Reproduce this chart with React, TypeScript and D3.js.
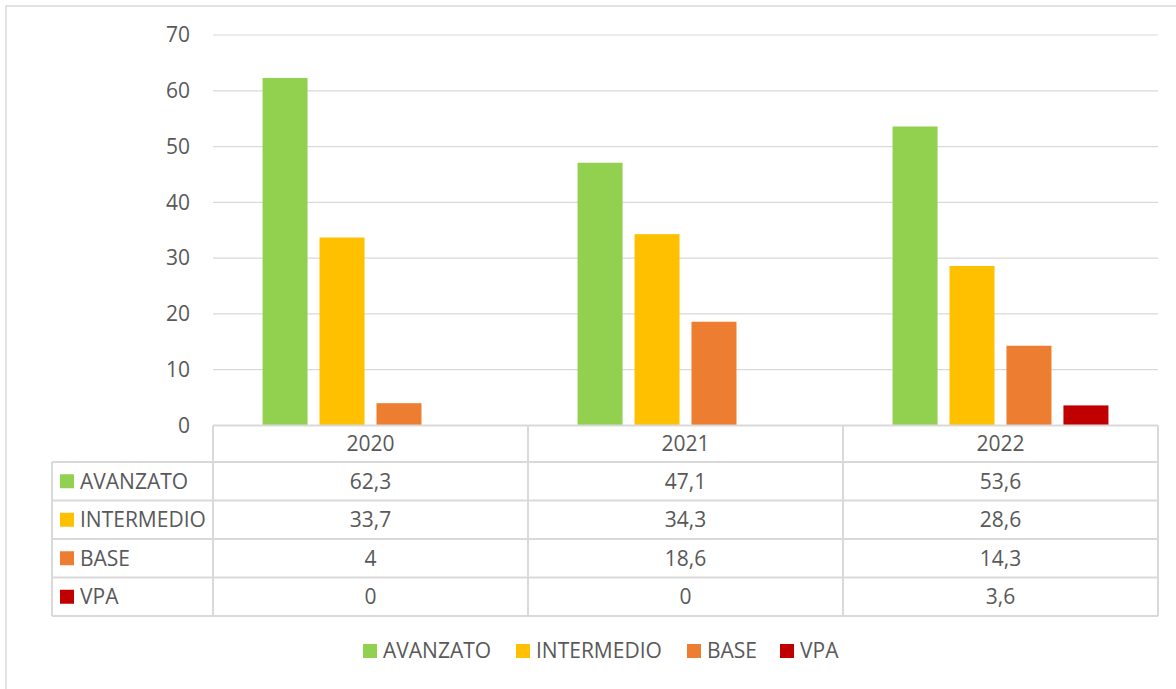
import React from "react";
import * as d3 from "d3";

const years = ["2020", "2021", "2022"];
const seriesNames = ["AVANZATO", "INTERMEDIO", "BASE", "VPA"];
const seriesColors = ["#92D050", "#FFC000", "#ED7D31", "#C00000"];
const avanzato = [62.3, 47.1, 53.6];
const intermedio = [33.7, 34.3, 28.6];
const base = [4, 18.6, 14.3];
const vpa = [0, 0, 3.6];
const yTicks = [0, 10, 20, 30, 40, 50, 60, 70];

const values = [avanzato, intermedio, base, vpa];

const W = 1176;
const H = 689;
const plotLeft = 213;
const plotRight = 1158;
const plotTop = 35;
const plotBottom = 425.5;
const tableLeft = 52;
const rowH = 38.5;
const headerBottom = 462;
const gridColor = "#D9D9D9";
const textColor = "#595959";
const font = "'Open Sans', 'Liberation Sans', sans-serif";
const fs = 21;

function fmt(v: number) {
  return String(v).replace(".", ",");
}

export default function App() {
  const x = d3.scaleBand<string>().domain(years).range([plotLeft, plotRight]);
  const y = d3.scaleLinear().domain([0, 70]).range([plotBottom, plotTop]);
  const inner = d3
    .scaleBand<string>()
    .domain(seriesNames)
    .range([0, x.bandwidth()])
    .paddingInner(0.21)
    .paddingOuter(0.87);

  const legendX = [363, 516, 687, 780];

  return (
    <svg
      width={W}
      height={H}
      style={{ position: "absolute", left: 0, top: 0, background: "#fff" }}
      fontFamily={font}
    >
      <rect x={6} y={6} width={W + 10} height={H + 10} fill="#fff" stroke={gridColor} strokeWidth={1.5} />

      {/* gridlines & y labels */}
      {yTicks.map((t) => (
        <g key={t}>
          {t > 0 && (
            <line x1={plotLeft} x2={plotRight} y1={y(t)} y2={y(t)} stroke={gridColor} strokeWidth={1.2} />
          )}
          <text x={190} y={y(t)} dy="0.35em" textAnchor="end" fontSize={fs} fill={textColor}>
            {t}
          </text>
        </g>
      ))}

      {/* bars */}
      {seriesNames.map((s, si) =>
        years.map((yr, i) => {
          const v = values[si][i];
          const bx = (x(yr) as number) + (inner(s) as number);
          return (
            <rect
              key={s + yr}
              x={bx}
              y={y(v)}
              width={inner.bandwidth()}
              height={plotBottom - y(v)}
              fill={seriesColors[si]}
            />
          );
        })
      )}

      {/* data table */}
      <g stroke={gridColor} strokeWidth={2} fill="none">
        <line x1={plotLeft} x2={plotRight} y1={plotBottom} y2={plotBottom} />
        {seriesNames.map((s, si) => (
          <line key={s} x1={tableLeft} x2={plotRight} y1={headerBottom + si * rowH} y2={headerBottom + si * rowH} />
        ))}
        <line x1={tableLeft} x2={plotRight} y1={headerBottom + 4 * rowH} y2={headerBottom + 4 * rowH} />
        <line x1={tableLeft} x2={tableLeft} y1={headerBottom} y2={headerBottom + 4 * rowH} />
        {years.map((yr) => (
          <line key={yr} x1={x(yr)} x2={x(yr)} y1={plotBottom} y2={headerBottom + 4 * rowH} />
        ))}
        <line x1={plotRight} x2={plotRight} y1={plotBottom} y2={headerBottom + 4 * rowH} />
      </g>

      {years.map((yr) => (
        <text
          key={yr}
          x={(x(yr) as number) + x.bandwidth() / 2}
          y={(plotBottom + headerBottom) / 2}
          dy="0.35em"
          textAnchor="middle"
          fontSize={fs}
          fill={textColor}
        >
          {yr}
        </text>
      ))}

      {seriesNames.map((s, si) => {
        const cy = headerBottom + si * rowH + rowH / 2;
        return (
          <g key={s}>
            <rect x={60} y={cy - 7} width={14} height={14} fill={seriesColors[si]} />
            <text x={80} y={cy} dy="0.35em" fontSize={fs} fill={textColor}>
              {s}
            </text>
            {years.map((yr, i) => (
              <text
                key={yr}
                x={(x(yr) as number) + x.bandwidth() / 2}
                y={cy}
                dy="0.35em"
                textAnchor="middle"
                fontSize={fs}
                fill={textColor}
              >
                {fmt(values[si][i])}
              </text>
            ))}
          </g>
        );
      })}

      {/* legend */}
      {seriesNames.map((s, si) => (
        <g key={s}>
          <rect x={legendX[si]} y={644} width={14} height={14} fill={seriesColors[si]} />
          <text x={legendX[si] + 20} y={651} dy="0.35em" fontSize={fs} fill={textColor}>
            {s}
          </text>
        </g>
      ))}
    </svg>
  );
}
